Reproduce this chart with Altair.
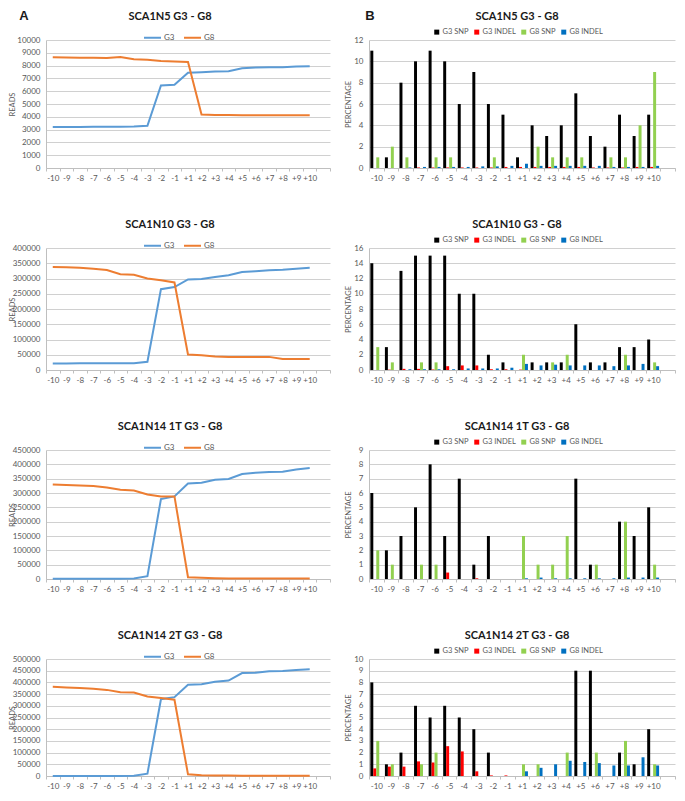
import altair as alt
import pandas as pd

# ---------------- data ----------------
positions = ["-10", "-9", "-8", "-7", "-6", "-5", "-4", "-3", "-2", "-1",
             "+1", "+2", "+3", "+4", "+5", "+6", "+7", "+8", "+9", "+10"]
x_domain = positions + [" "]  # Excel range has one empty slot at the end

titles = ["SCA1N5 G3 - G8", "SCA1N10 G3 - G8", "SCA1N14 1T G3 - G8", "SCA1N14 2T G3 - G8"]

# Reads (panel A)
n5_g3 = [3200, 3200, 3200, 3220, 3220, 3230, 3250, 3300, 6450, 6500,
         7450, 7480, 7530, 7560, 7800, 7850, 7870, 7880, 7920, 7940]
n5_g8 = [8650, 8630, 8620, 8610, 8600, 8680, 8500, 8460, 8360, 8330,
         8280, 4180, 4150, 4140, 4130, 4130, 4130, 4130, 4130, 4120]
n10_g3 = [21000, 21000, 22000, 22000, 22000, 22000, 22000, 27000, 265000, 272000,
          297000, 298000, 305000, 311000, 321000, 324000, 327000, 329000, 332000, 335000]
n10_g8 = [338000, 337000, 335000, 332000, 328000, 314000, 312000, 300000, 294000, 287000,
          51000, 48000, 44000, 43000, 43000, 43000, 43000, 36000, 36000, 36000]
n14a_g3 = [500, 500, 500, 500, 500, 500, 1500, 10000, 279000, 288000,
           333000, 336000, 346000, 349000, 366000, 371000, 373000, 374000, 382000, 387000]
n14a_g8 = [330000, 328000, 326000, 324000, 319000, 311000, 309000, 295000, 288000, 288000,
           6000, 4000, 2500, 2000, 2000, 2000, 2000, 2000, 2000, 2000]
n14b_g3 = [500, 500, 500, 500, 500, 500, 1500, 10000, 328000, 337000,
           390000, 392000, 403000, 408000, 440000, 441000, 448000, 449000, 453000, 456000]
n14b_g8 = [381000, 378000, 376000, 373000, 368000, 358000, 357000, 340000, 333000, 326000,
           7000, 3000, 2000, 2000, 1500, 1500, 1500, 1500, 1500, 1500]

# Percentages (panel B)
n5_g3snp = [11, 1, 8, 10, 11, 10, 6, 9, 6, 5, 1, 4, 3, 4, 7, 3, 2, 5, 3, 5]
n5_g3indel = [0, 0, 0, 0.05, 0.05, 0.05, 0.05, 0.05, 0.05, 0.1, 0.1, 0.1, 0.1, 0.1, 0.1, 0.05, 0.05, 0.05, 0.1, 0.1]
n5_g8snp = [1, 2, 1, 0, 1, 1, 0, 0, 1, 0, 0, 2, 1, 1, 1, 0, 1, 1, 4, 9]
n5_g8indel = [0, 0, 0.05, 0.1, 0.1, 0.1, 0.1, 0.15, 0.15, 0.2, 0.4, 0.2, 0.2, 0.2, 0.2, 0.2, 0.1, 0.1, 0.1, 0.2]

n10_g3snp = [14, 3, 13, 15, 15, 15, 10, 10, 2, 1, 0, 1, 1, 1, 6, 1, 1, 3, 3, 4]
n10_g3indel = [0, 0.05, 0.15, 0.15, 0.05, 0.5, 0.6, 0.6, 0.1, 0.1, 0.05, 0, 0, 0, 0, 0, 0, 0, 0, 0]
n10_g8snp = [3, 1, 0, 1, 1, 0, 0, 0, 0, 0, 2, 0, 1, 2, 0, 0, 0, 2, 0, 1]
n10_g8indel = [0, 0, 0.1, 0.1, 0.1, 0.1, 0.2, 0.2, 0.2, 0.3, 0.8, 0.6, 0.7, 0.6, 0.6, 0.6, 0.5, 0.6, 0.8, 0.5]

n14a_g3snp = [6, 2, 3, 5, 8, 3, 7, 1, 3, 0, 0, 0, 0, 0, 7, 1, 0, 4, 3, 5]
n14a_g3indel = [0, 0, 0, 0, 0, 0.45, 0, 0.05, 0, 0, 0, 0, 0, 0, 0, 0, 0, 0, 0, 0]
n14a_g8snp = [2, 1, 0, 1, 1, 0, 0, 0, 0, 0, 3, 1, 1, 3, 0, 1, 0, 4, 0, 1]
n14a_g8indel = [0, 0, 0, 0, 0, 0, 0, 0, 0, 0, 0.05, 0.1, 0.05, 0.05, 0.05, 0.05, 0.05, 0.1, 0.1, 0.1]

n14b_g3snp = [8, 1, 2, 6, 5, 6, 5, 4, 2, 0, 0, 0, 0, 0, 9, 9, 0, 2, 1, 4]
n14b_g3indel = [0.65, 0.8, 0.8, 1.25, 1.15, 2.55, 2.1, 0.4, 0.05, 0.05, 0, 0, 0, 0, 0, 0, 0, 0, 0, 0]
n14b_g8snp = [3, 1, 0, 1, 2, 0, 0, 0, 0, 0, 1, 1, 0, 2, 0, 2, 0, 3, 0, 1]
n14b_g8indel = [0, 0, 0, 0, 0, 0, 0, 0, 0, 0, 0.4, 0.7, 1.0, 1.3, 1.2, 1.1, 0.9, 0.9, 1.6, 0.9]

line_series = ["G3", "G8"]
line_colors = ["#5B9BD5", "#ED7D31"]
bar_series = ["G3 SNP", "G3 INDEL", "G8 SNP", "G8 INDEL"]
bar_colors = ["#000000", "#FF0000", "#92D050", "#0070C0"]

# ---------------- layout ----------------
LEFT_W, RIGHT_W = 284, 306
HEIGHTS = [128, 122, 129, 117]
FONT = "Lato"
GRID = "#d0d0d0"
AXISC = "#bfbfbf"
LABC = "#595959"


def x_axis():
    return alt.Axis(title=None, labelAngle=0, tickBand="extent", tickSize=3,
                    labelPadding=3, labelFontSize=8, labelColor=LABC,
                    domainColor=AXISC, tickColor=AXISC, grid=False)


def y_axis(title, values, h, tx):
    return alt.Axis(title=title, values=values, format="d", ticks=False, labelPadding=6,
                    labelFontSize=8, labelColor=LABC, domainColor=AXISC,
                    grid=True, gridColor=GRID, titleX=tx, titleY=h / 2, titleAngle=-90,
                    titleBaseline="middle", titleFontSize=7.5, titleFontWeight="normal",
                    titleColor=LABC)


def text_layer(txt, x, y, size, bold=True, font=FONT):
    return alt.Chart(pd.DataFrame({"t": [txt]})).mark_text(
        font=font, fontSize=size, fontWeight="bold" if bold else "normal",
        align="center", baseline="middle", color="#1a1a1a"
    ).encode(text="t:N", x=alt.value(x), y=alt.value(y))


def line_panel(i, g3, g8, ymax, ystep, letter=None):
    h = HEIGHTS[i]
    df = pd.DataFrame({"pos": positions * 2,
                       "series": ["G3"] * len(g3) + ["G8"] * len(g8),
                       "reads": g3 + g8})
    lines = alt.Chart(df).mark_line(strokeWidth=2).encode(
        x=alt.X("pos:N", scale=alt.Scale(type="band", domain=x_domain, paddingInner=0, paddingOuter=0),
                bandPosition=0.5, axis=x_axis()),
        y=alt.Y("reads:Q", scale=alt.Scale(domain=[0, ymax], nice=False),
                axis=y_axis("READS", list(range(0, ymax + 1, ystep)), h, -34)),
        color=alt.Color("series:N", scale=alt.Scale(domain=line_series, range=line_colors),
                        legend=alt.Legend(orient="none", legendX=97, legendY=-12, direction="horizontal",
                                          title=None, symbolType="stroke", symbolSize=289,
                                          symbolStrokeWidth=2, labelFontSize=8, labelColor=LABC,
                                          labelOffset=2, columnPadding=5, padding=0)),
    )
    layers = [lines, text_layer(titles[i], 124, -23, 11)]
    if letter:
        layers.append(text_layer(letter, -22, -24, 13, font="Liberation Sans"))
    return alt.layer(*layers).properties(width=LEFT_W, height=h)


def bar_panel(i, s1, s2, s3, s4, ymax, ystep, letter=None):
    h = HEIGHTS[i]
    df = pd.DataFrame({"pos": positions * 4,
                       "series": sum([[s] * len(positions) for s in bar_series], []),
                       "pct": s1 + s2 + s3 + s4})
    bars = alt.Chart(df).mark_bar().encode(
        x=alt.X("pos:N", scale=alt.Scale(domain=x_domain, paddingInner=0, paddingOuter=0), axis=x_axis()),
        xOffset=alt.XOffset("series:N", scale=alt.Scale(domain=bar_series, paddingInner=0, paddingOuter=0.45)),
        y=alt.Y("pct:Q", scale=alt.Scale(domain=[0, ymax], nice=False),
                axis=y_axis("PERCENTAGE", list(range(0, ymax + 1, ystep)), h, -21)),
        color=alt.Color("series:N", scale=alt.Scale(domain=bar_series, range=bar_colors),
                        legend=alt.Legend(orient="none", legendX=64, legendY=-12, direction="horizontal",
                                          title=None, symbolType="square", symbolSize=25,
                                          symbolStrokeWidth=0, labelFontSize=7.5, labelColor=LABC,
                                          labelOffset=2, columnPadding=4, padding=0)),
    )
    layers = [bars, text_layer(titles[i], 148, -23, 11)]
    if letter:
        layers.append(text_layer(letter, 1, -24, 13, font="Liberation Sans"))
    return alt.layer(*layers).properties(width=RIGHT_W, height=h)


panels = [
    line_panel(0, n5_g3, n5_g8, 10000, 1000, "A"),
    bar_panel(0, n5_g3snp, n5_g3indel, n5_g8snp, n5_g8indel, 12, 2, "B"),
    line_panel(1, n10_g3, n10_g8, 400000, 50000),
    bar_panel(1, n10_g3snp, n10_g3indel, n10_g8snp, n10_g8indel, 16, 2),
    line_panel(2, n14a_g3, n14a_g8, 450000, 50000),
    bar_panel(2, n14a_g3snp, n14a_g3indel, n14a_g8snp, n14a_g8indel, 9, 1),
    line_panel(3, n14b_g3, n14b_g8, 500000, 50000),
    bar_panel(3, n14b_g3snp, n14b_g3indel, n14b_g8snp, n14b_g8indel, 10, 1),
]

chart = alt.concat(*panels, columns=2, spacing={"row": 80, "column": 39},
                   bounds="flush", align="each").resolve_scale(
    color="independent"
).resolve_legend(color="independent").properties(
    padding={"top": 2, "left": 0, "right": 0, "bottom": 0}
).configure(font=FONT).configure_view(stroke=None)

chart.save("out.html", embed_options={"renderer": "svg", "actions": False})
